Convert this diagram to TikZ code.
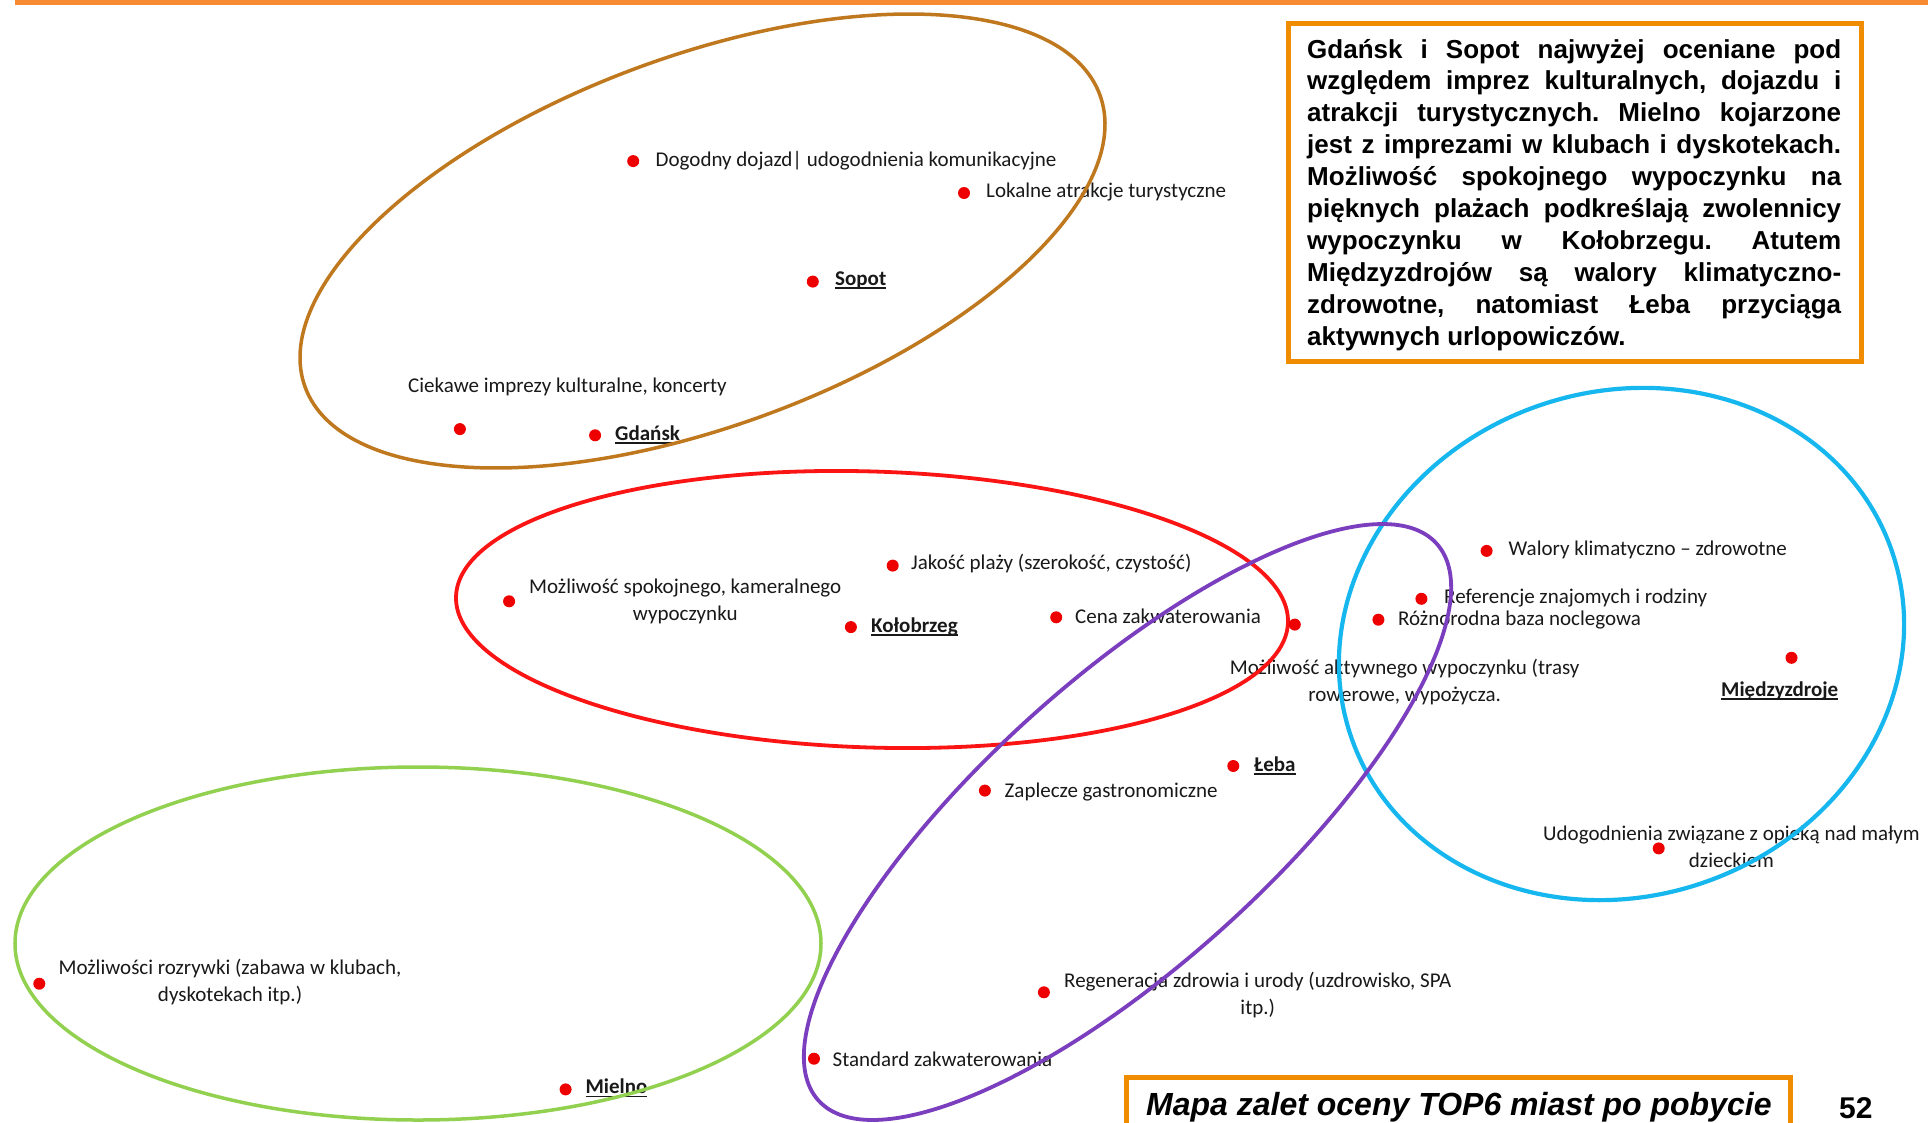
\documentclass[tikz,border=0pt]{standalone}
\usepackage{fontspec}
\setmainfont{Liberation Sans}
\newfontfamily\lblfont{Carlito}
\frenchspacing
\definecolor{topor}{RGB}{246,139,51}
\definecolor{boxor}{RGB}{240,140,0}
\definecolor{brownc}{RGB}{191,120,30}
\definecolor{redc}{RGB}{250,20,20}
\definecolor{bluec}{RGB}{22,182,238}
\definecolor{purplec}{RGB}{122,62,190}
\definecolor{greenc}{RGB}{146,208,80}
\definecolor{dotc}{RGB}{238,0,0}
\newcommand\cityname[1]{\setbox0\hbox{\bfseries #1}\rlap{\rule[-3.5pt]{\wd0}{1.6pt}}\box0}
\newcommand\twol[2]{\begin{tabular}[t]{@{}c@{}}#1\\#2\end{tabular}}
\newcommand\jline[1]{\makebox[534pt][s]{#1}}
\begin{document}
\begin{tikzpicture}[x=1pt,y=1pt,
  lbl/.style={font=\lblfont\fontsize{21}{27}\selectfont, inner sep=0pt, anchor=base west, text=black!90},
  dot/.style={circle, fill=dotc, inner sep=0pt, minimum size=12pt},
  boxline/.style={draw=boxor, line width=5pt},
  boxtxt/.style={font=\bfseries\fontsize{26}{31.8}\selectfont, inner sep=0pt, anchor=base west},
  ell/.style={line width=3.8pt}]
\useasboundingbox (0,0) rectangle (1928,-1122);
\fill[white] (0,0) rectangle (1928,-1122);
% top line
\fill[topor] (15,0) rectangle (1928,-5);
% top-right text box
\draw[boxline] (1288.5,-23.2) rectangle (1861.5,-361.5);
\node[boxtxt] (b1) at (1307,-58) {\jline{Gdańsk i Sopot najwyżej oceniane pod}};
\node[boxtxt] (b2) at (1307,-89.9) {\jline{względem imprez kulturalnych, dojazdu i}};
\node[boxtxt] (b3) at (1307,-121.8) {\jline{atrakcji turystycznych. Mielno kojarzone}};
\node[boxtxt] (b4) at (1307,-153.7) {\jline{jest z imprezami w klubach i dyskotekach.}};
\node[boxtxt] (b5) at (1307,-185.6) {\jline{Możliwość spokojnego wypoczynku na}};
\node[boxtxt] (b6) at (1307,-217.5) {\jline{pięknych plażach podkreślają zwolennicy}};
\node[boxtxt] (b7) at (1307,-249.4) {\jline{wypoczynku w Kołobrzegu. Atutem}};
\node[boxtxt] (b8) at (1307,-281.3) {\jline{Międzyzdrojów są walory klimatyczno-}};
\node[boxtxt] (b9) at (1307,-313.2) {\jline{zdrowotne, natomiast Łeba przyciąga}};
\node[boxtxt] (b10) at (1307,-345.1) {aktywnych urlopowiczów.};
% bottom caption box
\draw[boxline] (1126.5,-1077.5) rectangle (1790.5,-1140);
\node[font=\bfseries\itshape\fontsize{32}{36}\selectfont, inner sep=0pt, anchor=base west] (cap) at (1146,-1115) {Mapa zalet oceny TOP6 miast po pobycie};
\node[font=\bfseries\fontsize{30}{36}\selectfont, inner sep=0pt, anchor=base west] (pg) at (1839,-1118) {52};
% labels
\node[lbl] (t1) at (655.5,-166.5) {Dogodny dojazd| udogodnienia komunikacyjne};
\node[lbl] (t2) at (986,-197.5) {Lokalne atrakcje turystyczne};
\node[lbl] (t3) at (835,-285.5) {\cityname{Sopot}};
\node[lbl] (t4) at (408,-392.5) {Ciekawe imprezy kulturalne, koncerty};
\node[lbl] (t5) at (615,-440.5) {\cityname{Gdańsk}};
\node[lbl] (t6) at (911,-569.5) {Jakość plaży (szerokość, czystość)};
\node[lbl] (t7) at (529,-593) {\twol{Możliwość spokojnego, kameralnego}{wypoczynku}};
\node[lbl] (t8) at (871,-632) {\cityname{Kołobrzeg}};
\node[lbl] (t9) at (1075,-623.5) {Cena zakwaterowania};
\node[lbl] (t10) at (1229.6,-674) {\twol{Możliwość aktywnego wypoczynku (trasy}{rowerowe, wypożycza.}};
\node[lbl] (t11) at (1508.5,-555.5) {Walory klimatyczno – zdrowotne};
\node[lbl] (t12) at (1444,-603.5) {Referencje znajomych i rodziny};
\node[lbl] (t13) at (1398,-625) {Różnorodna baza noclegowa};
\node[lbl] (t14) at (1721,-696) {\cityname{Międzyzdroje}};
\node[lbl] (t15) at (1254,-771.5) {\cityname{Łeba}};
\node[lbl] (t16) at (1004.5,-797) {Zaplecze gastronomiczne};
\node[lbl] (t17) at (1543,-840) {\twol{Udogodnienia związane z opieką nad małym}{dzieckiem}};
\node[lbl] (t18) at (58.5,-974.5) {\twol{Możliwości rozrywki (zabawa w klubach,}{dyskotekach itp.)}};
\node[lbl] (t19) at (585.3,-1093.6) {\cityname{Mielno}};
\node[lbl] (t20) at (1064,-987) {\twol{Regeneracja zdrowia i urody (uzdrowisko, SPA}{itp.)}};
\node[lbl] (t21) at (832.5,-1066) {Standard zakwaterowania};
% ellipses
\draw[ell, brownc, line width=3.5pt, rotate around={20.2:(702.5,-241)}] (702.5,-241) ellipse [x radius=423.4, y radius=185];
\draw[ell, redc, rotate around={-1.8:(872,-609.5)}] (872,-609.5) ellipse [x radius=416.2, y radius=138];
\draw[ell, greenc, line width=3.5pt] (418,-943.5) ellipse [x radius=403, y radius=176.5];
\draw[ell, bluec, line width=4.2pt, rotate around={19:(1621.5,-644)}] (1621.5,-644) ellipse [x radius=285.9, y radius=252.3];
\draw[ell, purplec, rotate around={42:(1127.5,-822)}] (1127.5,-822) ellipse [x radius=416, y radius=142.8];
% dots
\node[dot] (p1) at (633.2,-161.1) {};
\node[dot] (p2) at (964.0,-193.0) {};
\node[dot] (p3) at (812.8,-281.6) {};
\node[dot] (p4) at (459.9,-429.1) {};
\node[dot] (p5) at (595.1,-435.3) {};
\node[dot] (p6) at (892.7,-565.6) {};
\node[dot] (p7) at (509.1,-601.3) {};
\node[dot] (p8) at (850.9,-627.1) {};
\node[dot] (p9) at (1056.2,-617.3) {};
\node[dot] (p10) at (1294.8,-624.6) {};
\node[dot] (p11) at (1486.6,-550.9) {};
\node[dot] (p12) at (1421.4,-598.8) {};
\node[dot] (p13) at (1378.4,-619.7) {};
\node[dot] (p14) at (1791.5,-657.8) {};
\node[dot] (p15) at (1233.3,-766.0) {};
\node[dot] (p16) at (984.9,-790.6) {};
\node[dot] (p17) at (1658.7,-848.4) {};
\node[dot] (p18) at (39.3,-983.7) {};
\node[dot] (p19) at (565.6,-1089.4) {};
\node[dot] (p20) at (1043.9,-992.3) {};
\node[dot] (p21) at (814.0,-1058.7) {};
\end{tikzpicture}
\end{document}
